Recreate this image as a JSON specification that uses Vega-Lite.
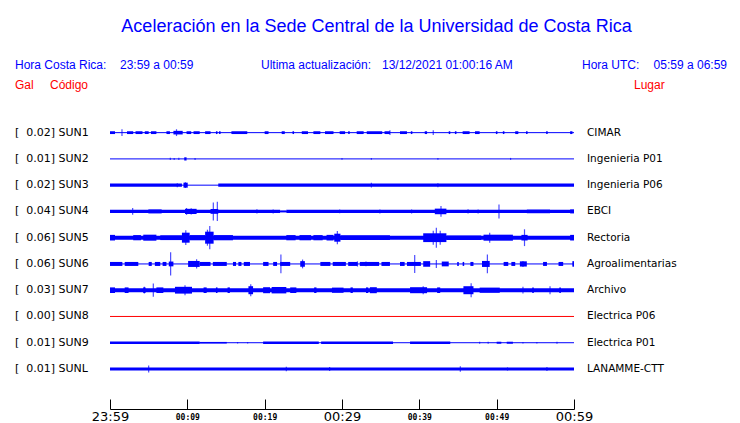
{
  "$schema": "https://vega.github.io/schema/vega-lite/v6.json",
  "autosize": {"type": "none"},
  "padding": {"left": 110, "top": 44, "right": 166, "bottom": 14},
  "width": 464,
  "height": 365,
  "background": "white",
  "view": {"stroke": null},
  "title": {
    "text": "Aceleración en la Sede Central de la Universidad de Costa Rica",
    "font": "Liberation Sans",
    "fontSize": 18,
    "fontWeight": "normal",
    "color": "#0000ff",
    "anchor": "middle",
    "frame": "group",
    "baseline": "alphabetic",
    "dx": 34.5,
    "offset": -6
  },
  "datasets": {
    "estaciones": [
      {"cod": "SUN1", "fila": 1, "gal": 0.02, "etiqueta": "[\u00a0\u00a00.02] SUN1", "lugar": "CIMAR"},
      {"cod": "SUN2", "fila": 2, "gal": 0.01, "etiqueta": "[\u00a0\u00a00.01] SUN2", "lugar": "Ingenieria P01"},
      {"cod": "SUN3", "fila": 3, "gal": 0.02, "etiqueta": "[\u00a0\u00a00.02] SUN3", "lugar": "Ingenieria P06"},
      {"cod": "SUN4", "fila": 4, "gal": 0.04, "etiqueta": "[\u00a0\u00a00.04] SUN4", "lugar": "EBCI"},
      {"cod": "SUN5", "fila": 5, "gal": 0.06, "etiqueta": "[\u00a0\u00a00.06] SUN5", "lugar": "Rectoria"},
      {"cod": "SUN6", "fila": 6, "gal": 0.06, "etiqueta": "[\u00a0\u00a00.06] SUN6", "lugar": "Agroalimentarias"},
      {"cod": "SUN7", "fila": 7, "gal": 0.03, "etiqueta": "[\u00a0\u00a00.03] SUN7", "lugar": "Archivo"},
      {"cod": "SUN8", "fila": 8, "gal": 0.00, "etiqueta": "[\u00a0\u00a00.00] SUN8", "lugar": "Electrica P06"},
      {"cod": "SUN9", "fila": 9, "gal": 0.01, "etiqueta": "[\u00a0\u00a00.01] SUN9", "lugar": "Electrica P01"},
      {"cod": "SUNL", "fila": 10, "gal": 0.01, "etiqueta": "[\u00a0\u00a00.01] SUNL", "lugar": "LANAMME-CTT"}
    ],
    "segmentos": [
      {"cod": "SUN1", "t0": 0, "t1": 0.65, "amp": 0.007},
      {"cod": "SUN1", "t0": 2.2, "t1": 3.0, "amp": 0.007},
      {"cod": "SUN1", "t0": 3.3, "t1": 4.2, "amp": 0.007},
      {"cod": "SUN1", "t0": 4.5, "t1": 5.0, "amp": 0.007},
      {"cod": "SUN1", "t0": 5.3, "t1": 6.0, "amp": 0.007},
      {"cod": "SUN1", "t0": 7.3, "t1": 7.75, "amp": 0.007},
      {"cod": "SUN1", "t0": 8.2, "t1": 9.4, "amp": 0.009},
      {"cod": "SUN1", "t0": 9.9, "t1": 10.5, "amp": 0.007},
      {"cod": "SUN1", "t0": 10.8, "t1": 11.6, "amp": 0.007},
      {"cod": "SUN1", "t0": 12.3, "t1": 13.0, "amp": 0.007},
      {"cod": "SUN1", "t0": 13.7, "t1": 13.9, "amp": 0.007},
      {"cod": "SUN1", "t0": 14.1, "t1": 14.3, "amp": 0.007},
      {"cod": "SUN1", "t0": 15.7, "t1": 17.75, "amp": 0.007},
      {"cod": "SUN1", "t0": 20.0, "t1": 20.5, "amp": 0.007},
      {"cod": "SUN1", "t0": 22.2, "t1": 22.6, "amp": 0.007},
      {"cod": "SUN1", "t0": 23.6, "t1": 23.8, "amp": 0.007},
      {"cod": "SUN1", "t0": 24.8, "t1": 25.6, "amp": 0.007},
      {"cod": "SUN1", "t0": 26.3, "t1": 27.2, "amp": 0.007},
      {"cod": "SUN1", "t0": 27.8, "t1": 28.9, "amp": 0.007},
      {"cod": "SUN1", "t0": 29.7, "t1": 30.4, "amp": 0.007},
      {"cod": "SUN1", "t0": 30.8, "t1": 31.0, "amp": 0.007},
      {"cod": "SUN1", "t0": 31.9, "t1": 32.8, "amp": 0.007},
      {"cod": "SUN1", "t0": 33.2, "t1": 35.2, "amp": 0.007},
      {"cod": "SUN1", "t0": 35.5, "t1": 36.2, "amp": 0.007},
      {"cod": "SUN1", "t0": 37.5, "t1": 38.4, "amp": 0.007},
      {"cod": "SUN1", "t0": 38.9, "t1": 39.1, "amp": 0.007},
      {"cod": "SUN1", "t0": 40.7, "t1": 41.0, "amp": 0.007},
      {"cod": "SUN1", "t0": 43.8, "t1": 44.0, "amp": 0.007},
      {"cod": "SUN1", "t0": 44.6, "t1": 44.8, "amp": 0.007},
      {"cod": "SUN1", "t0": 45.6, "t1": 46.5, "amp": 0.007},
      {"cod": "SUN1", "t0": 47.2, "t1": 47.8, "amp": 0.007},
      {"cod": "SUN1", "t0": 49.9, "t1": 50.1, "amp": 0.007},
      {"cod": "SUN1", "t0": 50.8, "t1": 51.0, "amp": 0.007},
      {"cod": "SUN1", "t0": 52.4, "t1": 52.8, "amp": 0.007},
      {"cod": "SUN1", "t0": 53.8, "t1": 54.0, "amp": 0.007},
      {"cod": "SUN1", "t0": 56.4, "t1": 56.6, "amp": 0.007},
      {"cod": "SUN1", "t0": 59.5, "t1": 59.8, "amp": 0.007},
      {"cod": "SUN2", "t0": 9.6, "t1": 9.9, "amp": 0.008},
      {"cod": "SUN3", "t0": 0, "t1": 9.3, "amp": 0.0085},
      {"cod": "SUN3", "t0": 9.5, "t1": 10.05, "amp": 0.0125},
      {"cod": "SUN3", "t0": 14.0, "t1": 60, "amp": 0.008},
      {"cod": "SUN4", "t0": 0, "t1": 22.0, "amp": 0.008},
      {"cod": "SUN4", "t0": 22.0, "t1": 22.8, "amp": 0.005},
      {"cod": "SUN4", "t0": 22.8, "t1": 60, "amp": 0.008},
      {"cod": "SUN4", "t0": 4.96, "t1": 6.68, "amp": 0.01},
      {"cod": "SUN4", "t0": 9.7, "t1": 11.2, "amp": 0.013},
      {"cod": "SUN4", "t0": 13.0, "t1": 14.0, "amp": 0.012},
      {"cod": "SUN4", "t0": 42.0, "t1": 43.5, "amp": 0.014},
      {"cod": "SUN4", "t0": 53.9, "t1": 56.9, "amp": 0.009},
      {"cod": "SUN4", "t0": 59.5, "t1": 60, "amp": 0.01},
      {"cod": "SUN5", "t0": 0, "t1": 60, "amp": 0.01},
      {"cod": "SUN5", "t0": 0, "t1": 0.65, "amp": 0.014},
      {"cod": "SUN5", "t0": 3.0, "t1": 4.0, "amp": 0.013},
      {"cod": "SUN5", "t0": 4.3, "t1": 6.0, "amp": 0.015},
      {"cod": "SUN5", "t0": 6.5, "t1": 9.3, "amp": 0.012},
      {"cod": "SUN5", "t0": 9.3, "t1": 10.3, "amp": 0.025},
      {"cod": "SUN5", "t0": 10.3, "t1": 12.3, "amp": 0.013},
      {"cod": "SUN5", "t0": 12.3, "t1": 13.4, "amp": 0.03},
      {"cod": "SUN5", "t0": 13.4, "t1": 15.9, "amp": 0.013},
      {"cod": "SUN5", "t0": 22.8, "t1": 24.0, "amp": 0.013},
      {"cod": "SUN5", "t0": 24.5, "t1": 26.0, "amp": 0.013},
      {"cod": "SUN5", "t0": 26.3, "t1": 27.5, "amp": 0.013},
      {"cod": "SUN5", "t0": 28.0, "t1": 28.9, "amp": 0.014},
      {"cod": "SUN5", "t0": 29.0, "t1": 29.8, "amp": 0.02},
      {"cod": "SUN5", "t0": 29.8, "t1": 36.2, "amp": 0.012},
      {"cod": "SUN5", "t0": 40.5, "t1": 43.5, "amp": 0.022},
      {"cod": "SUN5", "t0": 43.5, "t1": 48.0, "amp": 0.011},
      {"cod": "SUN5", "t0": 48.3, "t1": 52.1, "amp": 0.015},
      {"cod": "SUN5", "t0": 53.2, "t1": 54.0, "amp": 0.014},
      {"cod": "SUN5", "t0": 59.5, "t1": 60, "amp": 0.014},
      {"cod": "SUN6", "t0": 0, "t1": 1.6, "amp": 0.01},
      {"cod": "SUN6", "t0": 1.9, "t1": 3.66, "amp": 0.01},
      {"cod": "SUN6", "t0": 5.0, "t1": 5.4, "amp": 0.01},
      {"cod": "SUN6", "t0": 5.8, "t1": 6.5, "amp": 0.01},
      {"cod": "SUN6", "t0": 6.8, "t1": 7.3, "amp": 0.01},
      {"cod": "SUN6", "t0": 7.6, "t1": 8.2, "amp": 0.012},
      {"cod": "SUN6", "t0": 10.1, "t1": 11.6, "amp": 0.015},
      {"cod": "SUN6", "t0": 11.6, "t1": 13.0, "amp": 0.01},
      {"cod": "SUN6", "t0": 13.3, "t1": 15.1, "amp": 0.01},
      {"cod": "SUN6", "t0": 15.9, "t1": 16.3, "amp": 0.01},
      {"cod": "SUN6", "t0": 16.6, "t1": 17.0, "amp": 0.01},
      {"cod": "SUN6", "t0": 17.3, "t1": 18.1, "amp": 0.01},
      {"cod": "SUN6", "t0": 19.8, "t1": 20.5, "amp": 0.01},
      {"cod": "SUN6", "t0": 21.1, "t1": 21.6, "amp": 0.01},
      {"cod": "SUN6", "t0": 22.0, "t1": 23.3, "amp": 0.01},
      {"cod": "SUN6", "t0": 24.6, "t1": 25.2, "amp": 0.014},
      {"cod": "SUN6", "t0": 27.2, "t1": 28.5, "amp": 0.01},
      {"cod": "SUN6", "t0": 28.8, "t1": 30.5, "amp": 0.01},
      {"cod": "SUN6", "t0": 30.8, "t1": 32.0, "amp": 0.01},
      {"cod": "SUN6", "t0": 32.3, "t1": 34.8, "amp": 0.01},
      {"cod": "SUN6", "t0": 35.1, "t1": 36.2, "amp": 0.01},
      {"cod": "SUN6", "t0": 37.5, "t1": 38.1, "amp": 0.01},
      {"cod": "SUN6", "t0": 38.4, "t1": 40.2, "amp": 0.01},
      {"cod": "SUN6", "t0": 40.5, "t1": 41.4, "amp": 0.014},
      {"cod": "SUN6", "t0": 42.9, "t1": 43.8, "amp": 0.012},
      {"cod": "SUN6", "t0": 44.9, "t1": 45.1, "amp": 0.01},
      {"cod": "SUN6", "t0": 45.6, "t1": 45.8, "amp": 0.01},
      {"cod": "SUN6", "t0": 46.6, "t1": 47.0, "amp": 0.01},
      {"cod": "SUN6", "t0": 48.1, "t1": 49.1, "amp": 0.015},
      {"cod": "SUN6", "t0": 50.9, "t1": 51.5, "amp": 0.01},
      {"cod": "SUN6", "t0": 51.9, "t1": 52.4, "amp": 0.01},
      {"cod": "SUN6", "t0": 53.0, "t1": 53.9, "amp": 0.013},
      {"cod": "SUN6", "t0": 56.0, "t1": 56.5, "amp": 0.01},
      {"cod": "SUN6", "t0": 58.0, "t1": 58.6, "amp": 0.01},
      {"cod": "SUN6", "t0": 59.8, "t1": 60, "amp": 0.013},
      {"cod": "SUN7", "t0": 0, "t1": 60, "amp": 0.01},
      {"cod": "SUN7", "t0": 0, "t1": 0.65, "amp": 0.014},
      {"cod": "SUN7", "t0": 1.9, "t1": 2.4, "amp": 0.014},
      {"cod": "SUN7", "t0": 4.3, "t1": 4.6, "amp": 0.014},
      {"cod": "SUN7", "t0": 6.0, "t1": 6.9, "amp": 0.014},
      {"cod": "SUN7", "t0": 8.4, "t1": 10.6, "amp": 0.017},
      {"cod": "SUN7", "t0": 12.1, "t1": 12.5, "amp": 0.014},
      {"cod": "SUN7", "t0": 13.7, "t1": 13.9, "amp": 0.014},
      {"cod": "SUN7", "t0": 15.2, "t1": 15.5, "amp": 0.014},
      {"cod": "SUN7", "t0": 17.9, "t1": 18.5, "amp": 0.02},
      {"cod": "SUN7", "t0": 19.8, "t1": 20.7, "amp": 0.015},
      {"cod": "SUN7", "t0": 20.9, "t1": 22.8, "amp": 0.016},
      {"cod": "SUN7", "t0": 23.3, "t1": 24.1, "amp": 0.014},
      {"cod": "SUN7", "t0": 26.4, "t1": 26.7, "amp": 0.014},
      {"cod": "SUN7", "t0": 28.7, "t1": 30.2, "amp": 0.013},
      {"cod": "SUN7", "t0": 31.1, "t1": 31.4, "amp": 0.014},
      {"cod": "SUN7", "t0": 33.1, "t1": 33.4, "amp": 0.014},
      {"cod": "SUN7", "t0": 33.6, "t1": 34.5, "amp": 0.015},
      {"cod": "SUN7", "t0": 38.8, "t1": 41.0, "amp": 0.015},
      {"cod": "SUN7", "t0": 42.3, "t1": 42.7, "amp": 0.014},
      {"cod": "SUN7", "t0": 45.7, "t1": 47.0, "amp": 0.02},
      {"cod": "SUN7", "t0": 47.8, "t1": 50.4, "amp": 0.013},
      {"cod": "SUN7", "t0": 54.6, "t1": 54.8, "amp": 0.014},
      {"cod": "SUN7", "t0": 58.1, "t1": 58.3, "amp": 0.014},
      {"cod": "SUN9", "t0": 0, "t1": 11.6, "amp": 0.006},
      {"cod": "SUN9", "t0": 11.6, "t1": 15.1, "amp": 0.004},
      {"cod": "SUN9", "t0": 19.8, "t1": 27.0, "amp": 0.006},
      {"cod": "SUN9", "t0": 27.3, "t1": 36.6, "amp": 0.006},
      {"cod": "SUN9", "t0": 38.8, "t1": 44.0, "amp": 0.006},
      {"cod": "SUN9", "t0": 50.0, "t1": 50.6, "amp": 0.005},
      {"cod": "SUN9", "t0": 51.3, "t1": 52.1, "amp": 0.005},
      {"cod": "SUNL", "t0": 0, "t1": 60, "amp": 0.0075}
    ],
    "picos": [
      {"cod": "SUN1", "t": 1.55, "amp": 0.017},
      {"cod": "SUN1", "t": 8.6, "amp": 0.017},
      {"cod": "SUN1", "t": 36.2, "amp": 0.012},
      {"cod": "SUN1", "t": 41.8, "amp": 0.012},
      {"cod": "SUN2", "t": 7.8, "amp": 0.006},
      {"cod": "SUN2", "t": 8.3, "amp": 0.005},
      {"cod": "SUN2", "t": 8.9, "amp": 0.006},
      {"cod": "SUN2", "t": 11.0, "amp": 0.005},
      {"cod": "SUN2", "t": 30.0, "amp": 0.004},
      {"cod": "SUN2", "t": 33.8, "amp": 0.004},
      {"cod": "SUN2", "t": 42.4, "amp": 0.004},
      {"cod": "SUN2", "t": 51.8, "amp": 0.005},
      {"cod": "SUN3", "t": 8.7, "amp": 0.01},
      {"cod": "SUN3", "t": 9.75, "amp": 0.014},
      {"cod": "SUN3", "t": 33.8, "amp": 0.012},
      {"cod": "SUN3", "t": 42.4, "amp": 0.01},
      {"cod": "SUN4", "t": 2.93, "amp": 0.017},
      {"cod": "SUN4", "t": 9.9, "amp": 0.017},
      {"cod": "SUN4", "t": 10.5, "amp": 0.016},
      {"cod": "SUN4", "t": 13.36, "amp": 0.045},
      {"cod": "SUN4", "t": 13.88, "amp": 0.048},
      {"cod": "SUN4", "t": 19.0, "amp": 0.011},
      {"cod": "SUN4", "t": 21.1, "amp": 0.01},
      {"cod": "SUN4", "t": 29.7, "amp": 0.009},
      {"cod": "SUN4", "t": 34.9, "amp": 0.01},
      {"cod": "SUN4", "t": 39.0, "amp": 0.01},
      {"cod": "SUN4", "t": 42.8, "amp": 0.027},
      {"cod": "SUN4", "t": 46.3, "amp": 0.011},
      {"cod": "SUN4", "t": 47.6, "amp": 0.01},
      {"cod": "SUN4", "t": 50.3, "amp": 0.035},
      {"cod": "SUN5", "t": 9.8, "amp": 0.037},
      {"cod": "SUN5", "t": 12.6, "amp": 0.04},
      {"cod": "SUN5", "t": 12.9, "amp": 0.058},
      {"cod": "SUN5", "t": 29.4, "amp": 0.033},
      {"cod": "SUN5", "t": 41.8, "amp": 0.035},
      {"cod": "SUN5", "t": 42.2, "amp": 0.05},
      {"cod": "SUN5", "t": 42.7, "amp": 0.035},
      {"cod": "SUN5", "t": 49.1, "amp": 0.025},
      {"cod": "SUN5", "t": 53.6, "amp": 0.042},
      {"cod": "SUN6", "t": 7.84, "amp": 0.058},
      {"cod": "SUN6", "t": 11.2, "amp": 0.023},
      {"cod": "SUN6", "t": 22.1, "amp": 0.047},
      {"cod": "SUN6", "t": 24.9, "amp": 0.022},
      {"cod": "SUN6", "t": 32.0, "amp": 0.013},
      {"cod": "SUN6", "t": 33.1, "amp": 0.012},
      {"cod": "SUN6", "t": 39.4, "amp": 0.045},
      {"cod": "SUN6", "t": 42.2, "amp": 0.02},
      {"cod": "SUN6", "t": 48.8, "amp": 0.047},
      {"cod": "SUN6", "t": 53.4, "amp": 0.015},
      {"cod": "SUN6", "t": 59.9, "amp": 0.014},
      {"cod": "SUN7", "t": 4.44, "amp": 0.017},
      {"cod": "SUN7", "t": 5.6, "amp": 0.033},
      {"cod": "SUN7", "t": 9.7, "amp": 0.025},
      {"cod": "SUN7", "t": 18.2, "amp": 0.03},
      {"cod": "SUN7", "t": 40.5, "amp": 0.02},
      {"cod": "SUN7", "t": 46.7, "amp": 0.035},
      {"cod": "SUN7", "t": 53.4, "amp": 0.017},
      {"cod": "SUN7", "t": 56.9, "amp": 0.02},
      {"cod": "SUN9", "t": 16.5, "amp": 0.004},
      {"cod": "SUN9", "t": 17.8, "amp": 0.004},
      {"cod": "SUN9", "t": 47.8, "amp": 0.005},
      {"cod": "SUN9", "t": 48.9, "amp": 0.005},
      {"cod": "SUN9", "t": 53.4, "amp": 0.004},
      {"cod": "SUN9", "t": 55.2, "amp": 0.004},
      {"cod": "SUN9", "t": 57.8, "amp": 0.005},
      {"cod": "SUNL", "t": 5.0, "amp": 0.017},
      {"cod": "SUNL", "t": 22.8, "amp": 0.011},
      {"cod": "SUNL", "t": 28.4, "amp": 0.01},
      {"cod": "SUNL", "t": 45.3, "amp": 0.014},
      {"cod": "SUNL", "t": 51.4, "amp": 0.008},
      {"cod": "SUNL", "t": 56.5, "amp": 0.01}
    ]
  },
  "layer": [
    {
      "data": {"name": "estaciones"},
      "mark": {"type": "rule", "strokeWidth": 1},
      "encoding": {
        "x": {
          "datum": 0, "type": "quantitative",
          "scale": {"domain": [0, 60], "nice": false, "zero": false},
          "axis": {
            "values": [0, 5, 10, 15, 20, 25, 30, 35, 40, 45, 50, 55, 60],
            "title": null, "grid": false,
            "domainColor": "#000000", "domainWidth": 1,
            "tickColor": "#000000", "tickWidth": 1, "tickSize": -10,
            "labelColor": "#000000",
            "labelOverlap": false, "labelFlush": false, "labelBound": false,
            "labelExpr": "datum.value === 0 ? '23:59' : (datum.value % 10 === 0 ? '00:' + (datum.value < 11 ? '0' : '') + (datum.value - 1) : '')",
            "labelFontSize": {"condition": {"test": "datum.value % 30 === 0", "value": 13}, "value": 8},
            "labelFont": {"condition": {"test": "datum.value % 30 === 0", "value": "DejaVu Sans"}, "value": "DejaVu Sans Mono"},
            "labelFontWeight": {"condition": {"test": "datum.value % 30 === 0", "value": "normal"}, "value": "bold"},
            "labelPadding": {"condition": {"test": "datum.value % 30 === 0", "value": 11}, "value": 14}
          }
        },
        "x2": {"datum": 60},
        "y": {"field": "fila", "type": "quantitative", "scale": {"domain": [-2.18519, 11.33333], "reverse": true, "nice": false, "zero": false}, "axis": null},
        "color": {"condition": {"test": "datum.gal === 0", "value": "#ff0000"}, "value": "#0000ff"}
      }
    },
    {
      "data": {"name": "segmentos"},
      "transform": [{"lookup": "cod", "from": {"data": {"name": "estaciones"}, "key": "cod", "fields": ["fila"]}}],
      "mark": {"type": "bar", "orient": "horizontal", "color": "#0000ff"},
      "encoding": {
        "x": {"field": "t0", "type": "quantitative", "scale": {"domain": [0, 60], "nice": false, "zero": false}},
        "x2": {"field": "t1"},
        "y": {"field": "fila", "type": "quantitative", "scale": {"domain": [-2.18519, 11.33333], "reverse": true, "nice": false, "zero": false}, "axis": null},
        "size": {"field": "amp", "type": "quantitative", "scale": {"domain": [0, 0.06], "range": [0, 24], "zero": true}, "legend": null}
      }
    },
    {
      "data": {"name": "picos"},
      "transform": [{"lookup": "cod", "from": {"data": {"name": "estaciones"}, "key": "cod", "fields": ["fila"]}}],
      "mark": {"type": "tick", "orient": "vertical", "thickness": 1.2, "color": "#0000ff"},
      "encoding": {
        "x": {"field": "t", "type": "quantitative", "scale": {"domain": [0, 60], "nice": false, "zero": false}},
        "y": {"field": "fila", "type": "quantitative", "scale": {"domain": [-2.18519, 11.33333], "reverse": true, "nice": false, "zero": false}, "axis": null},
        "size": {"field": "amp", "type": "quantitative", "scale": {"domain": [0, 0.06], "range": [0, 24], "zero": true}, "legend": null}
      }
    },
    {
      "data": {"name": "estaciones"},
      "mark": {"type": "text", "align": "left", "baseline": "middle", "font": "DejaVu Sans", "fontSize": 11, "color": "#000000"},
      "encoding": {
        "x": {"datum": -12.285, "type": "quantitative"},
        "y": {"field": "fila", "type": "quantitative"},
        "text": {"field": "etiqueta"}
      }
    },
    {
      "data": {"name": "estaciones"},
      "mark": {"type": "text", "align": "left", "baseline": "middle", "font": "DejaVu Sans", "fontSize": 10.5, "color": "#000000"},
      "encoding": {
        "x": {"datum": 61.681, "type": "quantitative"},
        "y": {"field": "fila", "type": "quantitative"},
        "text": {"field": "lugar"}
      }
    },
    {
      "data": {"values": [{"texto": "Hora Costa Rica:"}]},
      "mark": {"type": "text", "align": "left", "baseline": "alphabetic", "font": "Liberation Sans", "fontSize": 12, "color": "#0000ff"},
      "encoding": {"x": {"datum": -12.285, "type": "quantitative"}, "y": {"datum": -1.4074, "type": "quantitative"}, "text": {"field": "texto"}}
    },
    {
      "data": {"values": [{"texto": "23:59 a 00:59"}]},
      "mark": {"type": "text", "align": "left", "baseline": "alphabetic", "font": "Liberation Sans", "fontSize": 12, "color": "#0000ff"},
      "encoding": {"x": {"datum": 1.293, "type": "quantitative"}, "y": {"datum": -1.4074, "type": "quantitative"}, "text": {"field": "texto"}}
    },
    {
      "data": {"values": [{"texto": "Ultima actualización:"}]},
      "mark": {"type": "text", "align": "left", "baseline": "alphabetic", "font": "Liberation Sans", "fontSize": 12, "color": "#0000ff"},
      "encoding": {"x": {"datum": 19.526, "type": "quantitative"}, "y": {"datum": -1.4074, "type": "quantitative"}, "text": {"field": "texto"}}
    },
    {
      "data": {"values": [{"texto": "13/12/2021 01:00:16 AM"}]},
      "mark": {"type": "text", "align": "left", "baseline": "alphabetic", "font": "Liberation Sans", "fontSize": 12, "color": "#0000ff"},
      "encoding": {"x": {"datum": 35.172, "type": "quantitative"}, "y": {"datum": -1.4074, "type": "quantitative"}, "text": {"field": "texto"}}
    },
    {
      "data": {"values": [{"texto": "Hora UTC:"}]},
      "mark": {"type": "text", "align": "left", "baseline": "alphabetic", "font": "Liberation Sans", "fontSize": 12, "color": "#0000ff"},
      "encoding": {"x": {"datum": 61.034, "type": "quantitative"}, "y": {"datum": -1.4074, "type": "quantitative"}, "text": {"field": "texto"}}
    },
    {
      "data": {"values": [{"texto": "05:59 a 06:59"}]},
      "mark": {"type": "text", "align": "right", "baseline": "alphabetic", "font": "Liberation Sans", "fontSize": 12, "color": "#0000ff"},
      "encoding": {"x": {"datum": 79.784, "type": "quantitative"}, "y": {"datum": -1.4074, "type": "quantitative"}, "text": {"field": "texto"}}
    },
    {
      "data": {"values": [{"texto": "Gal"}]},
      "mark": {"type": "text", "align": "left", "baseline": "alphabetic", "font": "Liberation Sans", "fontSize": 12, "color": "#ff0000"},
      "encoding": {"x": {"datum": -12.285, "type": "quantitative"}, "y": {"datum": -0.6667, "type": "quantitative"}, "text": {"field": "texto"}}
    },
    {
      "data": {"values": [{"texto": "Código"}]},
      "mark": {"type": "text", "align": "left", "baseline": "alphabetic", "font": "Liberation Sans", "fontSize": 12, "color": "#ff0000"},
      "encoding": {"x": {"datum": -7.759, "type": "quantitative"}, "y": {"datum": -0.6667, "type": "quantitative"}, "text": {"field": "texto"}}
    },
    {
      "data": {"values": [{"texto": "Lugar"}]},
      "mark": {"type": "text", "align": "left", "baseline": "alphabetic", "font": "Liberation Sans", "fontSize": 12, "color": "#ff0000"},
      "encoding": {"x": {"datum": 67.759, "type": "quantitative"}, "y": {"datum": -0.6667, "type": "quantitative"}, "text": {"field": "texto"}}
    }
  ]
}
